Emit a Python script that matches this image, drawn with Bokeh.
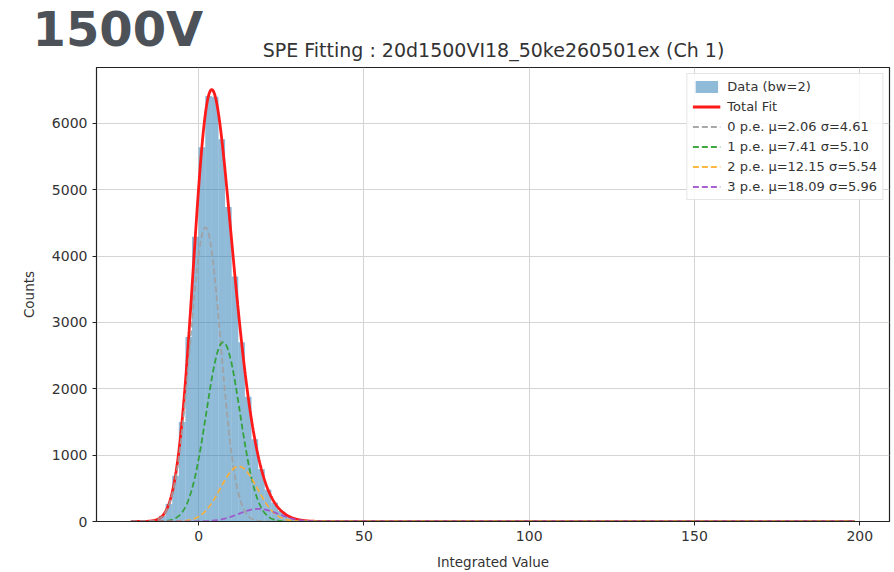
import numpy as np
from bokeh.plotting import figure
from bokeh.layouts import column
from bokeh.models import Legend, LegendItem, FixedTicker, Range1d
from bokeh.core.properties import value
from bokeh.embed import file_html
from bokeh.resources import INLINE

# Histogram of integrated charge, bin width 2 (bin centres and counts)
bin_centers = [-19, -17, -15, -13, -11, -9, -7, -5, -3, -1, 1, 3, 5, 7, 9,
               11, 13, 15, 17, 19, 21, 23, 25, 27, 29, 31, 33, 35]
bin_counts = [0, 2, 6, 22, 85, 265, 690, 1500, 2780, 4290, 5640, 6410, 6400,
              5760, 4740, 3690, 2700, 1880, 1240, 790, 480, 285, 160, 88, 44,
              20, 8, 3]
bin_width = 2

# Gaussian components of the SPE fit (0..3 photo-electrons)
pe_labels = ["0 p.e.", "1 p.e.", "2 p.e.", "3 p.e."]
pe_mu = [2.06, 7.41, 12.15, 18.09]
pe_sigma = [4.61, 5.10, 5.54, 5.96]
pe_amp = [4430, 2700, 830, 190]
pe_colors = ["#a0a0a0", "#2ca02c", "#ffb030", "#a050c8"]

fit_x_min, fit_x_max = -20.5, 198.5
x_ticks = [0, 50, 100, 150, 200]
y_ticks = [0, 1000, 2000, 3000, 4000, 5000, 6000]

voltage_tag = "1500V"
plot_title = "SPE Fitting : 20d1500VI18_50ke260501ex (Ch 1)"

FONT = "DejaVu Sans"
W, HEADER_H, H = 894, 67, 572

# ---- header strip: voltage tag and plot title (pixel coordinates) ----
head = figure(width=W, height=HEADER_H, output_backend="svg",
              toolbar_location=None, x_range=Range1d(0, W),
              y_range=Range1d(0, HEADER_H), x_axis_type=None,
              y_axis_type=None)
head.frame_align = False
head.min_border_left = 0
head.min_border_right = 0
head.min_border_top = 0
head.min_border_bottom = 0
head.outline_line_color = None
head.grid.visible = False
head.text(x=[32], y=[39], text=[voltage_tag],
          text_font=value(FONT), text_font_style="bold",
          text_font_size="48px", text_color="#4d5259",
          text_align="left", text_baseline="alphabetic")
head.text(x=[493], y=[18], text=[plot_title],
          text_font=value(FONT), text_font_size="19px",
          text_color="#333333", text_align="center",
          text_baseline="alphabetic")

# ---- main histogram panel ----
p = figure(width=W, height=H - HEADER_H, output_backend="svg",
           toolbar_location=None,
           x_range=Range1d(-30.9, 209.0), y_range=Range1d(0, 6840))
p.frame_align = False
p.min_border_left = 96
p.min_border_right = 5
p.min_border_top = 0
p.min_border_bottom = 48
p.background_fill_color = "white"
p.border_fill_color = "white"
p.outline_line_color = "#222222"
p.outline_line_width = 1.2

for ax in (p.xaxis, p.yaxis):
    ax.axis_line_color = "#222222"
    ax.major_tick_line_color = "#222222"
    ax.major_tick_out = 4
    ax.major_tick_in = 0
    ax.minor_tick_line_color = None
    ax.major_label_text_font = FONT
    ax.major_label_text_font_size = "14px"
    ax.major_label_text_color = "#333333"
    ax.axis_label_text_font = FONT
    ax.axis_label_text_font_size = "13.5px"
    ax.axis_label_text_font_style = "normal"
    ax.axis_label_text_color = "#333333"

p.xaxis.ticker = FixedTicker(ticks=x_ticks)
p.yaxis.ticker = FixedTicker(ticks=y_ticks)
p.xaxis.axis_label = "Integrated Value"
p.yaxis.axis_label = "Counts"
p.xaxis.axis_label_standoff = 10
p.yaxis.axis_label_standoff = 12
p.yaxis.major_label_orientation = "horizontal"
p.xgrid.ticker = FixedTicker(ticks=x_ticks)
p.ygrid.ticker = FixedTicker(ticks=y_ticks)
p.grid.grid_line_color = "#d4d4d4"
p.grid.grid_line_width = 1

# histogram bars
left = [c - bin_width / 2 for c in bin_centers]
right = [c + bin_width / 2 for c in bin_centers]
bottom = [0] * len(bin_centers)
hist = p.quad(left=left, right=right, bottom=bottom, top=bin_counts,
              fill_color="#1f77b4", fill_alpha=0.5, line_color=None)

# fit curves
xs = np.linspace(fit_x_min, fit_x_max, 2000)
comps = []
for a, m, s in zip(pe_amp, pe_mu, pe_sigma):
    comps.append(a * np.exp(-0.5 * ((xs - m) / s) ** 2))
total = np.sum(comps, axis=0)

total_r = p.line(xs, total, line_color="#ff1a1a", line_width=2.8)
comp_rs = []
for yv, col in zip(comps, pe_colors):
    comp_rs.append(p.line(xs, yv, line_color=col, line_width=1.8,
                          line_dash="6 3", line_alpha=0.9))

items = [LegendItem(label="Data (bw=2)", renderers=[hist]),
         LegendItem(label="Total Fit", renderers=[total_r])]
for lab, m, s, r in zip(pe_labels, pe_mu, pe_sigma, comp_rs):
    items.append(LegendItem(label=f"{lab} \u03bc={m:.2f} \u03c3={s:.2f}",
                            renderers=[r]))

legend = Legend(items=items, location="top_right")
legend.label_text_font = FONT
legend.label_text_font_size = "13px"
legend.label_text_color = "#333333"
legend.glyph_width = 28
legend.glyph_height = 15
legend.label_height = 15
legend.spacing = 5
legend.padding = 5
legend.margin = 6
legend.label_standoff = 7
legend.border_line_color = "#cccccc"
legend.background_fill_alpha = 0.85
p.add_layout(legend)

layout = column(head, p, spacing=0)
open("out.html", "w").write(file_html(layout, INLINE))
